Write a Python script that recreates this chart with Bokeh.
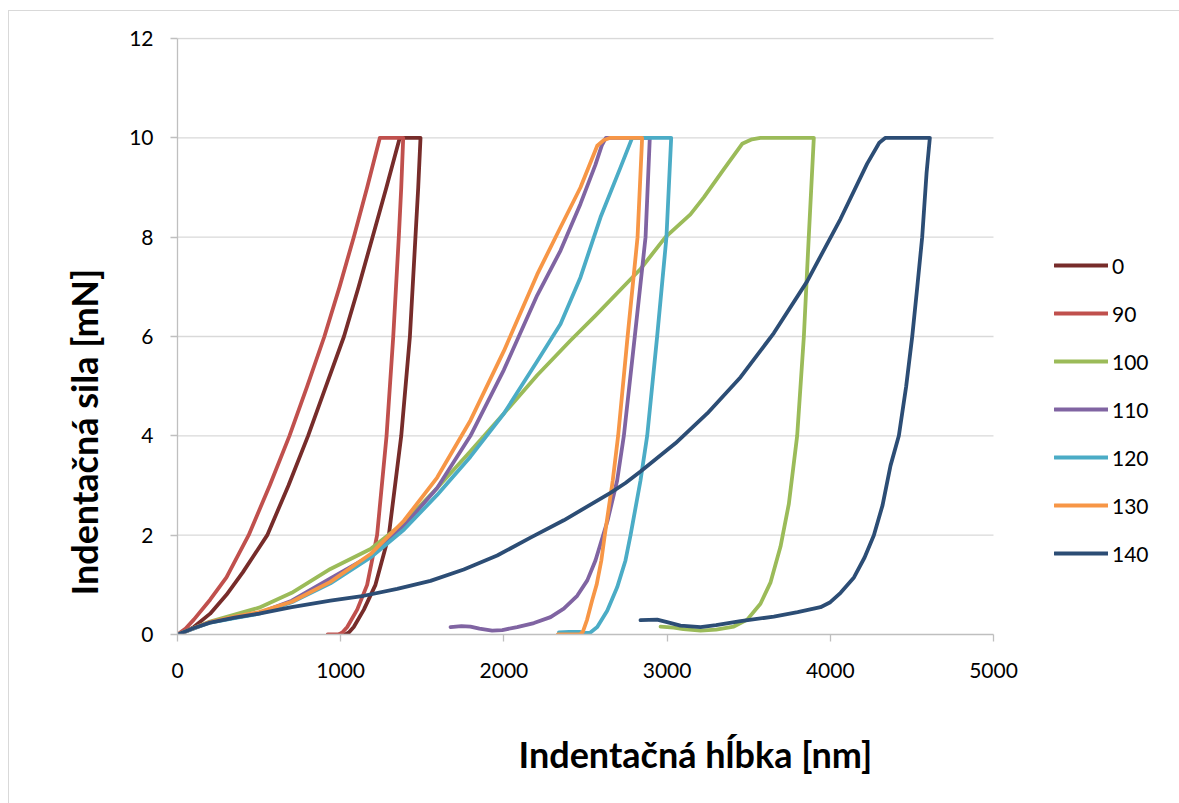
from bokeh.plotting import figure
from bokeh.models import Range1d, Legend, LegendItem, Title, FixedTicker
from bokeh.embed import file_html
from bokeh.resources import INLINE

# ---- data (depth in nm, force in mN) ----
series_names = ["0", "90", "100", "110", "120", "130", "140"]
series_colors = ["#772C2A", "#C0504D", "#9BBB59", "#8064A2", "#4BACC6", "#F79646", "#2C4D75"]

depth_0 = [0, 50, 100, 200, 300, 400, 470, 550, 680, 800, 910, 1020, 1110, 1195, 1280, 1362, 1489,
           1475, 1458, 1424, 1371, 1295, 1213, 1142, 1080, 1050, 1029, 990]
force_0 = [0, 0.06, 0.15, 0.42, 0.8, 1.25, 1.6, 2.0, 3.0, 4.0, 5.0, 6.0, 7.0, 8.0, 9.0, 10.0, 10.0,
           9.0, 8.0, 6.0, 4.0, 2.0, 1.0, 0.5, 0.15, 0.04, 0.0, 0.0]

depth_90 = [0, 50, 100, 200, 300, 436, 565, 686, 795, 900, 993, 1080, 1162, 1240, 1383,
            1371, 1356, 1322, 1281, 1223, 1162, 1101, 1040, 1010, 989, 920]
force_90 = [0, 0.12, 0.3, 0.7, 1.15, 2.0, 3.0, 4.0, 5.0, 6.0, 7.0, 8.0, 9.0, 10.0, 10.0,
            9.0, 8.0, 6.0, 4.0, 2.0, 1.0, 0.5, 0.15, 0.04, 0.0, 0.0]

depth_100 = [0, 100, 200, 350, 500, 700, 937, 1183, 1387, 1591, 1795, 2000, 2204, 2408, 2561,
             2837, 2990, 3143, 3225, 3348, 3460, 3520, 3572, 3899,
             3868, 3838, 3797, 3746, 3695, 3634, 3572, 3491, 3409, 3300, 3205, 3100, 3041, 2960]
force_100 = [0, 0.13, 0.26, 0.4, 0.54, 0.84, 1.32, 1.72, 2.25, 2.95, 3.69, 4.45, 5.22, 5.92, 6.42,
             7.36, 8.0, 8.46, 8.80, 9.37, 9.88, 9.97, 10.0, 10.0,
             8.0, 6.0, 4.0, 2.63, 1.77, 1.05, 0.62, 0.30, 0.16, 0.1, 0.08, 0.11, 0.14, 0.16]

depth_110 = [0, 100, 200, 350, 500, 700, 937, 1183, 1387, 1591, 1795, 2000, 2204, 2347, 2469,
             2560, 2600, 2625, 2894,
             2868, 2802, 2735, 2694, 2635, 2561, 2511, 2449, 2367, 2286, 2184,
             2081, 1990, 1928, 1850, 1795, 1740, 1673]
force_110 = [0, 0.12, 0.25, 0.34, 0.43, 0.68, 1.13, 1.59, 2.18, 2.95, 4.0, 5.33, 6.83, 7.73, 8.67,
             9.45, 9.85, 10.0, 10.0,
             8.0, 6.0, 4.0, 3.1, 2.29, 1.49, 1.09, 0.78, 0.52, 0.35, 0.23,
             0.15, 0.09, 0.08, 0.12, 0.16, 0.17, 0.15]

depth_120 = [0, 100, 200, 350, 500, 700, 937, 1183, 1387, 1591, 1795, 2000, 2204, 2347, 2469,
             2592, 2714, 2786, 3025,
             2996, 2939, 2878, 2837, 2776, 2745, 2694, 2633, 2572, 2530, 2505, 2469,
             2400, 2337]
force_120 = [0, 0.12, 0.24, 0.33, 0.42, 0.65, 1.03, 1.55, 2.11, 2.81, 3.58, 4.45, 5.50, 6.25, 7.19,
             8.40, 9.40, 10.0, 10.0,
             8.0, 6.0, 4.0, 3.1, 2.0, 1.49, 0.95, 0.48, 0.15, 0.04, 0.03, 0.05,
             0.05, 0.04]

depth_130 = [0, 100, 200, 350, 500, 700, 937, 1183, 1387, 1591, 1795, 2000, 2204, 2347, 2469,
             2572, 2610, 2653, 2847,
             2819, 2758, 2700, 2667, 2618, 2597, 2568, 2540, 2510, 2483, 2465, 2400, 2330]
force_130 = [0, 0.13, 0.25, 0.36, 0.45, 0.66, 1.06, 1.62, 2.29, 3.16, 4.31, 5.71, 7.25, 8.2, 9.0,
             9.84, 9.95, 10.0, 10.0,
             8.0, 6.0, 4.0, 3.1, 2.0, 1.49, 1.0, 0.68, 0.3, 0.05, 0.0, 0.0, 0.0]

depth_140 = [0, 100, 200, 350, 500, 700, 937, 1142, 1346, 1550, 1754, 1959, 2163, 2367, 2653,
             2745, 2837, 3051, 3246, 3450, 3654, 3858, 4063, 4226, 4300, 4338, 4610,
             4590, 4563, 4533, 4502, 4465, 4420, 4369, 4320, 4267, 4210, 4145, 4063, 4000, 3940,
             3800, 3654, 3450, 3300, 3205, 3082, 3000, 2939, 2837]
force_140 = [0, 0.13, 0.24, 0.34, 0.42, 0.55, 0.68, 0.78, 0.92, 1.08, 1.31, 1.59, 1.95, 2.3, 2.85,
             3.05, 3.28, 3.85, 4.45, 5.18, 6.07, 7.11, 8.37, 9.48, 9.9, 10.0, 10.0,
             9.3, 8.0, 7.0, 6.0, 5.0, 4.0, 3.4, 2.6, 2.0, 1.55, 1.15, 0.84, 0.65, 0.55,
             0.45, 0.36, 0.27, 0.19, 0.15, 0.18, 0.25, 0.30, 0.29]

x_ticks = [0, 1000, 2000, 3000, 4000, 5000]
y_ticks = [0, 2, 4, 6, 8, 10, 12]
x_title = "Indentačná hĺbka [nm]"
y_title = "Indentačná sila  [mN]"

depths = [depth_0, depth_90, depth_100, depth_110, depth_120, depth_130, depth_140]
forces = [force_0, force_90, force_100, force_110, force_120, force_130, force_140]

FONT = "Lato"

# layout: plot area 177..993 px for 0..5000, 38..634 px for 12..0; the frame is
# widened to the window's right edge so that the legend can sit beside the data
X_MAX = x_ticks[-1]
Y_MAX = y_ticks[-1]
FRAME_W = 1179 - 177
DATA_W = 816
FRAME_H = 634 - 37
DATA_H = 596

border_css = (":host::after { content: ''; position: absolute; left: 8px; top: 10px; "
              "right: 0; bottom: 0; border-top: 1.5px solid #D9D9D9; "
              "border-left: 1.5px solid #D9D9D9; pointer-events: none; }")

p = figure(width=1179, height=803, output_backend="svg", toolbar_location=None,
           x_range=Range1d(0, X_MAX * FRAME_W / DATA_W),
           y_range=Range1d(0, Y_MAX * FRAME_H / DATA_H),
           min_border_left=177, min_border_right=0, min_border_top=37, min_border_bottom=169,
           stylesheets=[border_css])
p.outline_line_color = None
p.background_fill_color = "white"
p.border_fill_color = "white"
p.xgrid.grid_line_color = None
p.ygrid.grid_line_color = None

# horizontal gridlines limited to the data width
grid_y = [t for t in y_ticks if t > 0]
p.segment(x0=[0] * len(grid_y), x1=[X_MAX] * len(grid_y), y0=grid_y, y1=grid_y,
          line_color="#D9D9D9", line_width=1.3)

for ax in (p.xaxis[0], p.yaxis[0]):
    ax.axis_line_color = "#BFBFBF"
    ax.axis_line_width = 1.3
    ax.major_tick_line_color = "#BFBFBF"
    ax.major_tick_line_width = 1.3
    ax.major_tick_in = 0
    ax.major_tick_out = 7
    ax.minor_tick_line_color = None
    ax.major_label_text_font = FONT
    ax.major_label_text_font_size = "21px"
    ax.major_label_text_color = "black"
p.xaxis[0].ticker = FixedTicker(ticks=x_ticks)
p.yaxis[0].ticker = FixedTicker(ticks=y_ticks)
p.xaxis[0].bounds = (0, X_MAX)
p.yaxis[0].bounds = (0, Y_MAX)
p.xaxis[0].major_label_standoff = 21
p.yaxis[0].major_label_standoff = 17

items = []
for name, color, xs, ys in zip(series_names, series_colors, depths, forces):
    r = p.line(xs, ys, line_color=color, line_width=3.8, line_join="round", line_cap="round")
    items.append(LegendItem(label=name, renderers=[r]))

legend = Legend(items=items, location=(877, 68), orientation="vertical",
                glyph_width=54, glyph_height=26, label_height=26, spacing=22,
                label_standoff=4, padding=10, margin=0,
                label_text_font=FONT, label_text_font_size="21px", label_text_color="black",
                border_line_color=None, background_fill_alpha=0)
p.add_layout(legend, "center")

# axis titles placed like the reference (the x title sits one line lower)
p.add_layout(Title(text="\n" + x_title, align="left", offset=341, standoff=14,
                   vertical_align="top",
                   text_font=FONT, text_font_style="bold", text_font_size="36px",
                   text_color="black"), "below")
p.add_layout(Title(text=y_title, align="left", offset=39, standoff=42,
                   text_font=FONT, text_font_style="bold", text_font_size="36px",
                   text_color="black"), "left")

open("out.html", "w").write(file_html(p, INLINE))
